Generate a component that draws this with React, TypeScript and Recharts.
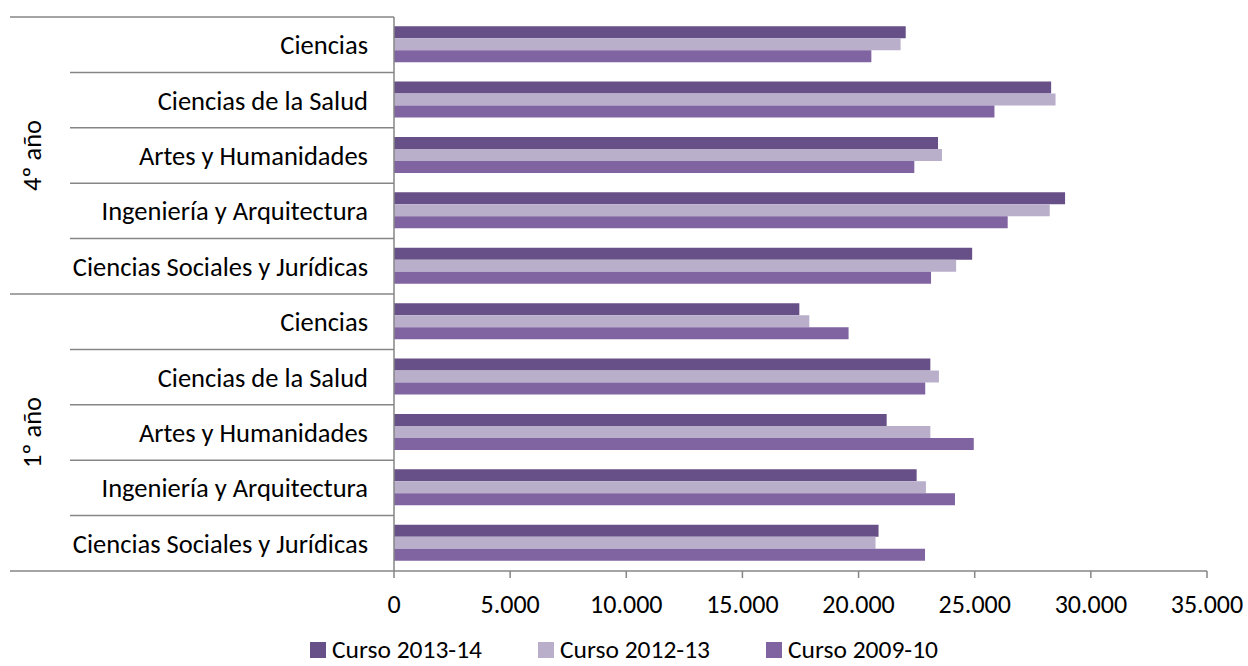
import { Bar, BarChart, Legend, XAxis, YAxis } from "recharts";

// Áreas de conocimiento (de arriba abajo, dentro de cada curso)
const areas = [
  "Ciencias",
  "Ciencias de la Salud",
  "Artes y Humanidades",
  "Ingeniería y Arquitectura",
  "Ciencias Sociales y Jurídicas",
];
const groups = ["4º año", "1º año"];

// valores por fila: primero 4º año, luego 1º año
const curso1314 = [22030, 28290, 23420, 28890, 24890, 17450, 23090, 21210, 22500, 20860];
const curso1213 = [21810, 28480, 23590, 28230, 24200, 17880, 23460, 23090, 22900, 20730];
const curso0910 = [20550, 25850, 22400, 26420, 23120, 19570, 22870, 24960, 24150, 22860];

const xTicks = [0, 5000, 10000, 15000, 20000, 25000, 30000, 35000];

const series = [
  { key: "c1314", name: "Curso 2013-14", color: "#674F87" },
  { key: "c1213", name: "Curso 2012-13", color: "#B9AFCB" },
  { key: "c0910", name: "Curso 2009-10", color: "#8064A2" },
];

const W = 1248;
const H = 666;
const TOP = 17;
const BOTTOM = 571;
const AXIS_X = 394;
const BAND = (BOTTOM - TOP) / (areas.length * groups.length);
const FONT = "Carlito, Calibri, Lato, sans-serif";
const FS = 26.5;
const GRID = "#868686";

const data = groups.flatMap((g, gi) =>
  areas.map((a, ai) => {
    const i = gi * areas.length + ai;
    return {
      id: `${gi}-${ai}`,
      area: a,
      group: g,
      c1314: curso1314[i],
      c1213: curso1213[i],
      c0910: curso0910[i],
    };
  })
);

const fmt = (v: number) => v.toLocaleString("de-DE");

function CategoryTick(props: any) {
  const { y, index } = props;
  const row = data[index];
  if (!row) return null;
  const top = y - BAND / 2;
  const first = index % areas.length === 0;
  const last = index === data.length - 1;
  const mid = index % areas.length === Math.floor(areas.length / 2);
  return (
    <g>
      <line x1={first ? 10 : 70} x2={AXIS_X} y1={top} y2={top} stroke={GRID} strokeWidth={1.5} />
      {last && <line x1={10} x2={AXIS_X} y1={y + BAND / 2} y2={y + BAND / 2} stroke={GRID} strokeWidth={1.5} />}
      <text x={AXIS_X - 26} y={y + 9.5} textAnchor="end" fontSize={FS} fill="#000" fontFamily={FONT}>
        {row.area}
      </text>
      {mid && (
        <text
          x={33}
          y={y}
          transform={`rotate(-90 33 ${y})`}
          textAnchor="middle"
          dy={8}
          fontSize={FS}
          fill="#000"
          fontFamily={FONT}
        >
          {row.group}
        </text>
      )}
    </g>
  );
}

function LegendContent() {
  return (
    <div style={{ display: "flex", justifyContent: "center", gap: 56, height: 24, alignItems: "center" }}>
      {series.map((s) => (
        <div
          key={s.key}
          style={{ display: "flex", alignItems: "center", gap: 6, fontFamily: FONT, fontSize: 25.5, color: "#000", lineHeight: "24px", height: 24 }}
        >
          <span style={{ width: 16, height: 16, background: s.color, display: "inline-block" }} />
          <span>{s.name}</span>
        </div>
      ))}
    </div>
  );
}

export default function App() {
  return (
    <div style={{ position: "absolute", left: 0, top: 0, width: W, height: H, background: "#fff", overflow: "hidden" }}>
      <BarChart
        width={W}
        height={H}
        data={data}
        layout="vertical"
        margin={{ top: TOP, right: W - 1207, bottom: 0, left: 0 }}
        barCategoryGap="16.5%"
        barGap={0}
      >
        <XAxis
          type="number"
          domain={[0, 35000]}
          ticks={xTicks}
          tickFormatter={fmt}
          height={H - BOTTOM - 24}
          axisLine={{ stroke: GRID, strokeWidth: 1.5 }}
          tickLine={{ stroke: GRID, strokeWidth: 1.5 }}
          tickSize={7}
          tickMargin={17}
          tick={{ fontSize: 26, fill: "#000", fontFamily: FONT }}
        />
        <YAxis
          type="category"
          dataKey="id"
          width={AXIS_X}
          axisLine={{ stroke: GRID, strokeWidth: 1.5 }}
          tickLine={false}
          interval={0}
          tick={<CategoryTick />}
        />
        {series.map((s) => (
          <Bar key={s.key} dataKey={s.key} name={s.name} fill={s.color} isAnimationActive={false} />
        ))}
        <Legend
          verticalAlign="bottom"
          content={<LegendContent />}
          wrapperStyle={{ top: 638, bottom: "auto", left: 0, width: W }}
        />
      </BarChart>
    </div>
  );
}
